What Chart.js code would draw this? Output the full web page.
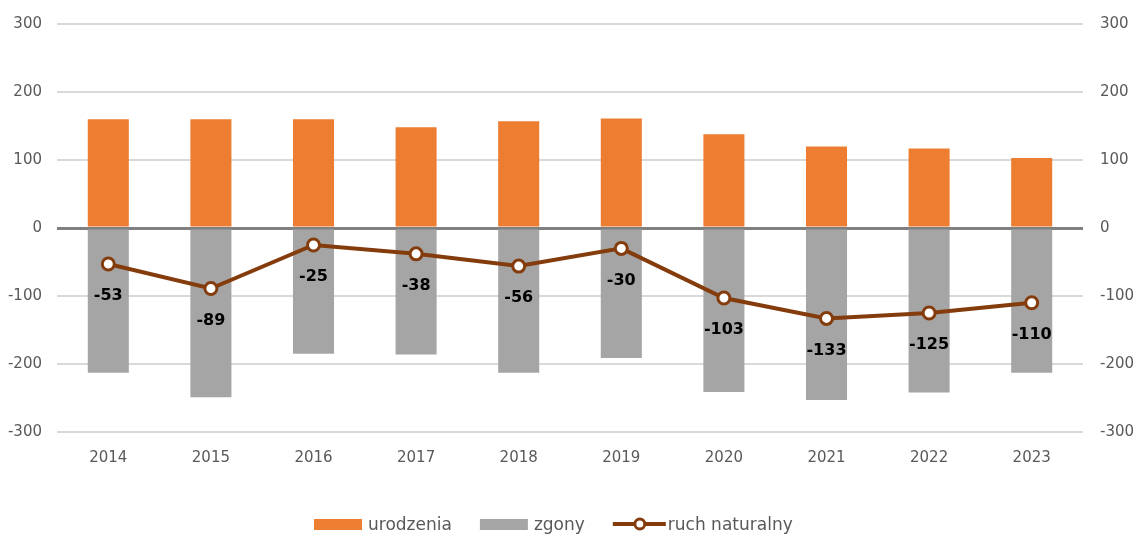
<!DOCTYPE html>
<html>
<head>
<meta charset="utf-8">
<script src="https://cdn.jsdelivr.net/npm/chart.js@4/dist/chart.umd.min.js"></script>
<style>
  html, body { margin: 0; padding: 0; background: #fff; }
  #wrap { width: 1140px; height: 534px; position: relative; }
</style>
</head>
<body>
<div id="wrap"><canvas id="popChart"></canvas></div>
<script>
const years = ["2014", "2015", "2016", "2017", "2018", "2019", "2020", "2021", "2022", "2023"];
const births = [160, 160, 160, 148, 157, 161, 138, 120, 117, 103];
const deaths = [-213, -249, -185, -186, -213, -191, -241, -253, -242, -213];
const natural = [-53, -89, -25, -38, -56, -30, -103, -133, -125, -110];
const yTicks = [-300, -200, -100, 0, 100, 200, 300];
const legendNames = ["urodzenia", "zgony", "ruch naturalny"];

const FONT = "'DejaVu Sans', sans-serif";
const ORANGE = "#ed7d31";
const GREY = "#a5a5a5";
const BROWN = "#843c0c";
const TEXT = "#595959";

// value labels under the line points
const pointLabels = {
  id: "pointLabels",
  afterDatasetsDraw(chart) {
    const meta = chart.getDatasetMeta(2);
    const ctx = chart.ctx;
    ctx.save();
    ctx.font = "bold 16px " + FONT;
    ctx.fillStyle = "#000";
    ctx.textAlign = "center";
    ctx.textBaseline = "middle";
    meta.data.forEach((pt, i) => {
      ctx.fillText(String(natural[i]), pt.x, pt.y + 32);
    });
    ctx.restore();
  }
};

// legend drawn by hand so the spacing matches
const bottomLegend = {
  id: "bottomLegend",
  afterDraw(chart) {
    const ctx = chart.ctx;
    const y = 524;
    ctx.save();
    ctx.font = "17px " + FONT;
    ctx.textBaseline = "middle";
    let x = 314;
    legendNames.forEach((name, i) => {
      if (i < 2) {
        ctx.fillStyle = i === 0 ? ORANGE : GREY;
        ctx.fillRect(x, y - 5, 48, 11);
        x += 54;
      } else {
        ctx.strokeStyle = BROWN;
        ctx.lineWidth = 4;
        ctx.beginPath(); ctx.moveTo(x, y); ctx.lineTo(x + 53, y); ctx.stroke();
        ctx.fillStyle = "#fff";
        ctx.lineWidth = 3;
        ctx.beginPath(); ctx.arc(x + 27, y, 5, 0, Math.PI * 2); ctx.fill(); ctx.stroke();
        x += 55;
      }
      ctx.fillStyle = TEXT;
      ctx.fillText(name, x, y + 2);
      x += ctx.measureText(name).width + 28;
    });
    ctx.restore();
  }
};

new Chart(document.getElementById("popChart"), {
  type: "bar",
  data: {
    labels: years,
    datasets: [
      {
        label: "urodzenia",
        data: births,
        backgroundColor: ORANGE,
        barPercentage: 0.4,
        categoryPercentage: 1,
        order: 1
      },
      {
        label: "zgony",
        data: deaths,
        backgroundColor: GREY,
        barPercentage: 0.4,
        categoryPercentage: 1,
        order: 2
      },
      {
        type: "line",
        label: "ruch naturalny",
        data: natural,
        borderColor: BROWN,
        borderWidth: 4,
        pointRadius: 6,
        pointBorderWidth: 3,
        pointBackgroundColor: "#fff",
        pointBorderColor: BROWN,
        tension: 0,
        order: 0
      }
    ]
  },
  options: {
    responsive: true,
    maintainAspectRatio: false,
    animation: false,
    layout: { padding: { top: 12, bottom: 72, left: 0, right: 0 } },
    plugins: {
      tooltip: { enabled: false },
      legend: { display: false }
    },
    scales: {
      x: {
        stacked: true,
        afterFit: s => { s.height = 30; },
        grid: { display: false },
        border: { display: false },
        ticks: { color: TEXT, font: { family: FONT, size: 15 }, padding: 9 }
      },
      y: {
        min: -300,
        max: 300,
        afterBuildTicks: s => { s.ticks = yTicks.map(v => ({ value: v })); },
        afterFit: s => { s.width = 57; },
        border: { display: false },
        grid: {
          drawTicks: false,
          color: c => c.tick && c.tick.value === 0 ? "#808080" : "#d9d9d9",
          lineWidth: c => c.tick && c.tick.value === 0 ? 3 : 2
        },
        ticks: { color: TEXT, font: { family: FONT, size: 15 }, padding: 15 }
      },
      y2: {
        position: "right",
        min: -300,
        max: 300,
        afterBuildTicks: s => { s.ticks = yTicks.map(v => ({ value: v })); },
        afterFit: s => { s.width = 57; },
        border: { display: false },
        grid: { display: false },
        ticks: { color: TEXT, font: { family: FONT, size: 15 }, padding: 9 }
      }
    }
  },
  plugins: [pointLabels, bottomLegend]
});
</script>
</body>
</html>
